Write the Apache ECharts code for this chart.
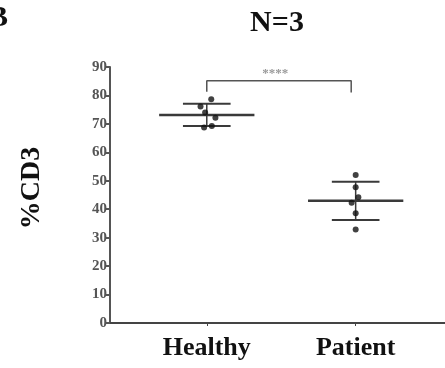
<!DOCTYPE html>
<html>
<head>
<meta charset="utf-8">
<script src="https://cdn.jsdelivr.net/npm/echarts@6/dist/echarts.min.js"></script>
<style>
  html, body { margin: 0; padding: 0; background: #fff; }
  #chart { width: 445px; height: 368px; }
</style>
</head>
<body>
<div id="chart"></div>
<script>
// Groups and their positions on the x axis
const categories = ['Healthy', 'Patient'];
const categoryPos = [1, 2];

// %CD3 per sample
const healthyValues = [78.7, 76.1, 74.0, 72.2, 68.7, 69.3];
const patientValues = [52.0, 47.7, 44.2, 42.3, 38.6, 32.9];

// Horizontal scatter of each dot around its group centre (x-axis units)
const healthyJitter = [0.03, -0.042, -0.011, 0.058, -0.018, 0.034];
const patientJitter = [0, 0, 0.018, -0.027, 0, 0];

const yTicks = [0, 10, 20, 30, 40, 50, 60, 70, 80, 90];
const significance = '****';

function mean(a) { return a.reduce((s, v) => s + v, 0) / a.length; }
function sd(a) {
  const m = mean(a);
  return Math.sqrt(a.reduce((s, v) => s + (v - m) * (v - m), 0) / (a.length - 1));
}

const groups = [healthyValues, patientValues];
const jitters = [healthyJitter, patientJitter];

const points = [];
groups.forEach((vals, g) => {
  vals.forEach((v, i) => points.push([categoryPos[g] + jitters[g][i], v]));
});

const summary = groups.map((vals, g) => [categoryPos[g], mean(vals), sd(vals)]);

const chart = echarts.init(document.getElementById('chart'), null, { renderer: 'canvas' });

const serif = '"Liberation Serif", "Times New Roman", serif';
const lineColor = '#3a3a3a';

chart.setOption({
  animation: false,
  title: {
    text: 'N=3',
    left: 272,
    top: 3,
    textAlign: 'center',
    textStyle: { fontFamily: serif, fontWeight: 'bold', fontSize: 30, color: '#111' }
  },
  grid: { left: 110, right: 0, top: 67, bottom: 45 },
  xAxis: {
    type: 'value',
    min: 0.35,
    max: 2.6,
    splitLine: { show: false },
    axisLine: { show: true, lineStyle: { color: '#444', width: 2 } },
    axisTick: { show: true, customValues: categoryPos, length: 3, lineStyle: { color: '#444', width: 1 } },
    axisLabel: {
      customValues: categoryPos,
      formatter: v => categories[categoryPos.indexOf(Math.round(v))] || '',
      fontFamily: serif, fontWeight: 'bold', fontSize: 26, color: '#111', margin: 12
    }
  },
  yAxis: {
    type: 'value',
    min: 0,
    max: 90,
    splitLine: { show: false },
    axisLine: { show: true, lineStyle: { color: '#555', width: 2 } },
    axisTick: { show: true, customValues: yTicks, length: 5, lineStyle: { color: '#555', width: 2 } },
    axisLabel: {
      customValues: yTicks,
      fontFamily: serif, fontWeight: 'bold', fontSize: 15, color: '#555', margin: 3
    }
  },
  graphic: [
    {
      type: 'text',
      x: 32, y: 188,
      rotation: Math.PI / 2,
      style: {
        text: '%CD3', fontFamily: serif, fontWeight: 'bold', fontSize: 28,
        fill: '#111', align: 'center', verticalAlign: 'middle'
      }
    },
    {
      type: 'text',
      x: -12, y: 3,
      style: { text: 'B', fontFamily: serif, fontWeight: 'bold', fontSize: 30, fill: '#111' }
    }
  ],
  series: [
    {
      // mean line and ±SD whiskers for each group
      type: 'custom',
      data: summary,
      z: 2,
      renderItem: (params, api) => {
        const x = api.value(0), m = api.value(1), s = api.value(2);
        const c = api.coord([x, m]);
        const top = api.coord([x, m + s]);
        const bot = api.coord([x, m - s]);
        const meanL = api.coord([x - 0.32, m])[0], meanR = api.coord([x + 0.32, m])[0];
        const sdL = api.coord([x - 0.16, m])[0], sdR = api.coord([x + 0.16, m])[0];
        const st = { stroke: lineColor, lineWidth: 2 };
        return {
          type: 'group',
          children: [
            { type: 'line', shape: { x1: meanL, y1: c[1], x2: meanR, y2: c[1] }, style: { stroke: lineColor, lineWidth: 2.5 } },
            { type: 'line', shape: { x1: sdL, y1: top[1], x2: sdR, y2: top[1] }, style: st },
            { type: 'line', shape: { x1: sdL, y1: bot[1], x2: sdR, y2: bot[1] }, style: st },
            { type: 'line', shape: { x1: c[0], y1: top[1], x2: c[0], y2: bot[1] }, style: { stroke: lineColor, lineWidth: 1.5 } }
          ]
        };
      }
    },
    {
      type: 'scatter',
      data: points,
      symbol: 'circle',
      symbolSize: 6,
      z: 3,
      itemStyle: { color: '#111' }
    },
    {
      // significance bracket between the two groups
      type: 'line',
      data: [[1.0, 81.3], [1.0, 85.2], [1.97, 85.2], [1.97, 81.0]],
      symbol: 'none',
      lineStyle: { color: '#555', width: 1.5 },
      z: 2,
      markPoint: {
        symbol: 'rect', symbolSize: 0,
        data: [{ coord: [1.46, 87.5], value: significance }],
        label: { show: true, formatter: significance, fontSize: 13, fontWeight: 'bold', color: '#999', fontFamily: serif }
      }
    }
  ]
});
</script>
</body>
</html>
